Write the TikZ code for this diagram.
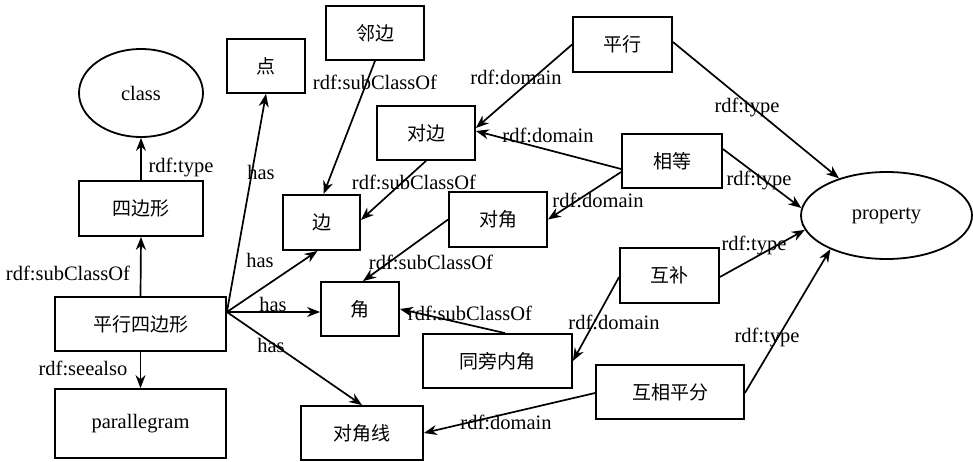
\documentclass[tikz,border=0pt]{standalone}
\usepackage{fontspec}
\setmainfont{Liberation Serif}
\newfontfamily\cjk{Noto Sans CJK SC}
\usetikzlibrary{shapes.geometric,arrows.meta}
\begin{document}
\begin{tikzpicture}[x=1pt,y=-1pt,
  font=\fontsize{20.5}{22}\selectfont,
  box/.style={draw,line width=1.8pt,inner sep=0pt,font=\fontsize{19}{21}\selectfont\cjk},
  oval/.style={draw,ellipse,line width=1.8pt,inner sep=0pt},
  conn/.style={line width=1.7pt,-{Stealth[length=13pt,width=10pt]}},
  lbl/.style={inner sep=0pt}]
\useasboundingbox (0,0) rectangle (973,462);
% nodes
\node[oval,minimum width=124pt,minimum height=88pt] (class) at (141,93) {class};
\node[box,minimum width=78pt,minimum height=54pt] (dian) at (266,66) {点};
\node[box,minimum width=124pt,minimum height=55pt] (sbx) at (141,208.5) {四边形};
\node[box,minimum width=171pt,minimum height=54pt] (pxsbx) at (140.5,324) {平行四边形};
\node[box,minimum width=171pt,minimum height=69pt,font=\fontsize{20.5}{22}\selectfont] (para) at (140.5,423.5) {parallegram};
\node[box,minimum width=98pt,minimum height=54pt] (lb) at (375,33) {邻边};
\node[box,minimum width=98pt,minimum height=54pt] (db) at (426,133) {对边};
\node[box,minimum width=77pt,minimum height=55pt] (bian) at (321.5,222.5) {边};
\node[box,minimum width=98pt,minimum height=55pt] (dj) at (498,219.5) {对角};
\node[box,minimum width=78pt,minimum height=54pt] (jiao) at (360,309) {角};
\node[box,minimum width=149pt,minimum height=54pt] (tpnj) at (497.5,361) {同旁内角};
\node[box,minimum width=122pt,minimum height=54pt] (djx) at (362,433) {对角线};
\node[box,minimum width=99pt,minimum height=55pt] (pxing) at (622.5,44.5) {平行};
\node[box,minimum width=100pt,minimum height=54pt] (xd) at (672,161) {相等};
\node[oval,minimum width=171pt,minimum height=87pt] (prop) at (886.5,215.5) {property};
\node[box,minimum width=99pt,minimum height=55pt] (hb) at (669.5,275.5) {互补};
\node[box,minimum width=148pt,minimum height=54pt] (hxpf) at (670,392) {互相平分};
% connectors
\draw[conn] (sbx.north) -- (class.south);
\draw[conn] (pxsbx.north) -- (sbx.south);
\draw[conn] (pxsbx.south) -- (para.north);
\draw[conn] ([yshift=12pt]pxsbx.east) -- (dian.south);
\draw[conn] ([yshift=12pt]pxsbx.east) -- ([xshift=-4pt]bian.south);
\draw[conn] ([yshift=12pt]pxsbx.east) -- ([yshift=-3pt]jiao.west);
\draw[conn] ([yshift=12pt]pxsbx.east) -- (djx.north);
\draw[conn] (lb.south) -- ([xshift=2pt]bian.north);
\draw[conn] (db.south) -- ([yshift=2.5pt]bian.east);
\draw[conn] (dj.west) -- ([xshift=3pt]jiao.north);
\draw[conn] ([xshift=7.5pt]tpnj.north) -- (jiao.east);
\draw[conn] (pxing.west) -- ([yshift=5pt]db.east);
\draw[conn] ([yshift=-8pt]xd.west) -- ([yshift=2pt]db.east);
\draw[conn] ([yshift=-11pt]xd.west) -- (dj.east);
\draw[conn] ([yshift=2.5pt]pxing.east) -- (prop.142);
\draw[conn] ([yshift=12pt]xd.east) -- (prop.175);
\draw[conn] ([yshift=-1.5pt]hb.east) -- (prop.190);
\draw[conn] ([yshift=-1pt]hxpf.east) -- (prop.211);
\draw[conn] ([yshift=-1.5pt]hb.west) -- (tpnj.east);
\draw[conn] ([yshift=-1pt]hxpf.west) -- (djx.east);
% labels
\node[lbl] (l1) at (181,167) {rdf:type};
\node[lbl] (l2) at (68,273) {rdf:subClassOf};
\node[lbl] (l3) at (83,368) {rdf:seealso};
\node[lbl] (l4) at (261,172) {has};
\node[lbl] (l5) at (260,260) {has};
\node[lbl] (l6) at (273,304) {has};
\node[lbl] (l7) at (271,345) {has};
\node[lbl] (l8) at (375,82) {rdf:subClassOf};
\node[lbl] (l9) at (414,182) {rdf:subClassOf};
\node[lbl] (l10) at (431,262) {rdf:subClassOf};
\node[lbl] (l11) at (470,313) {rdf:subClassOf};
\node[lbl] (l12) at (516,77) {rdf:domain};
\node[lbl] (l13) at (548,135) {rdf:domain};
\node[lbl] (l14) at (598,200) {rdf:domain};
\node[lbl] (l15) at (747,107) {rdf:type};
\node[lbl] (l16) at (759,180) {rdf:type};
\node[lbl] (l17) at (754,245) {rdf:type};
\node[lbl] (l18) at (767,337) {rdf:type};
\node[lbl] (l19) at (614,322) {rdf:domain};
\node[lbl] (l20) at (506,422) {rdf:domain};
\end{tikzpicture}
\end{document}
